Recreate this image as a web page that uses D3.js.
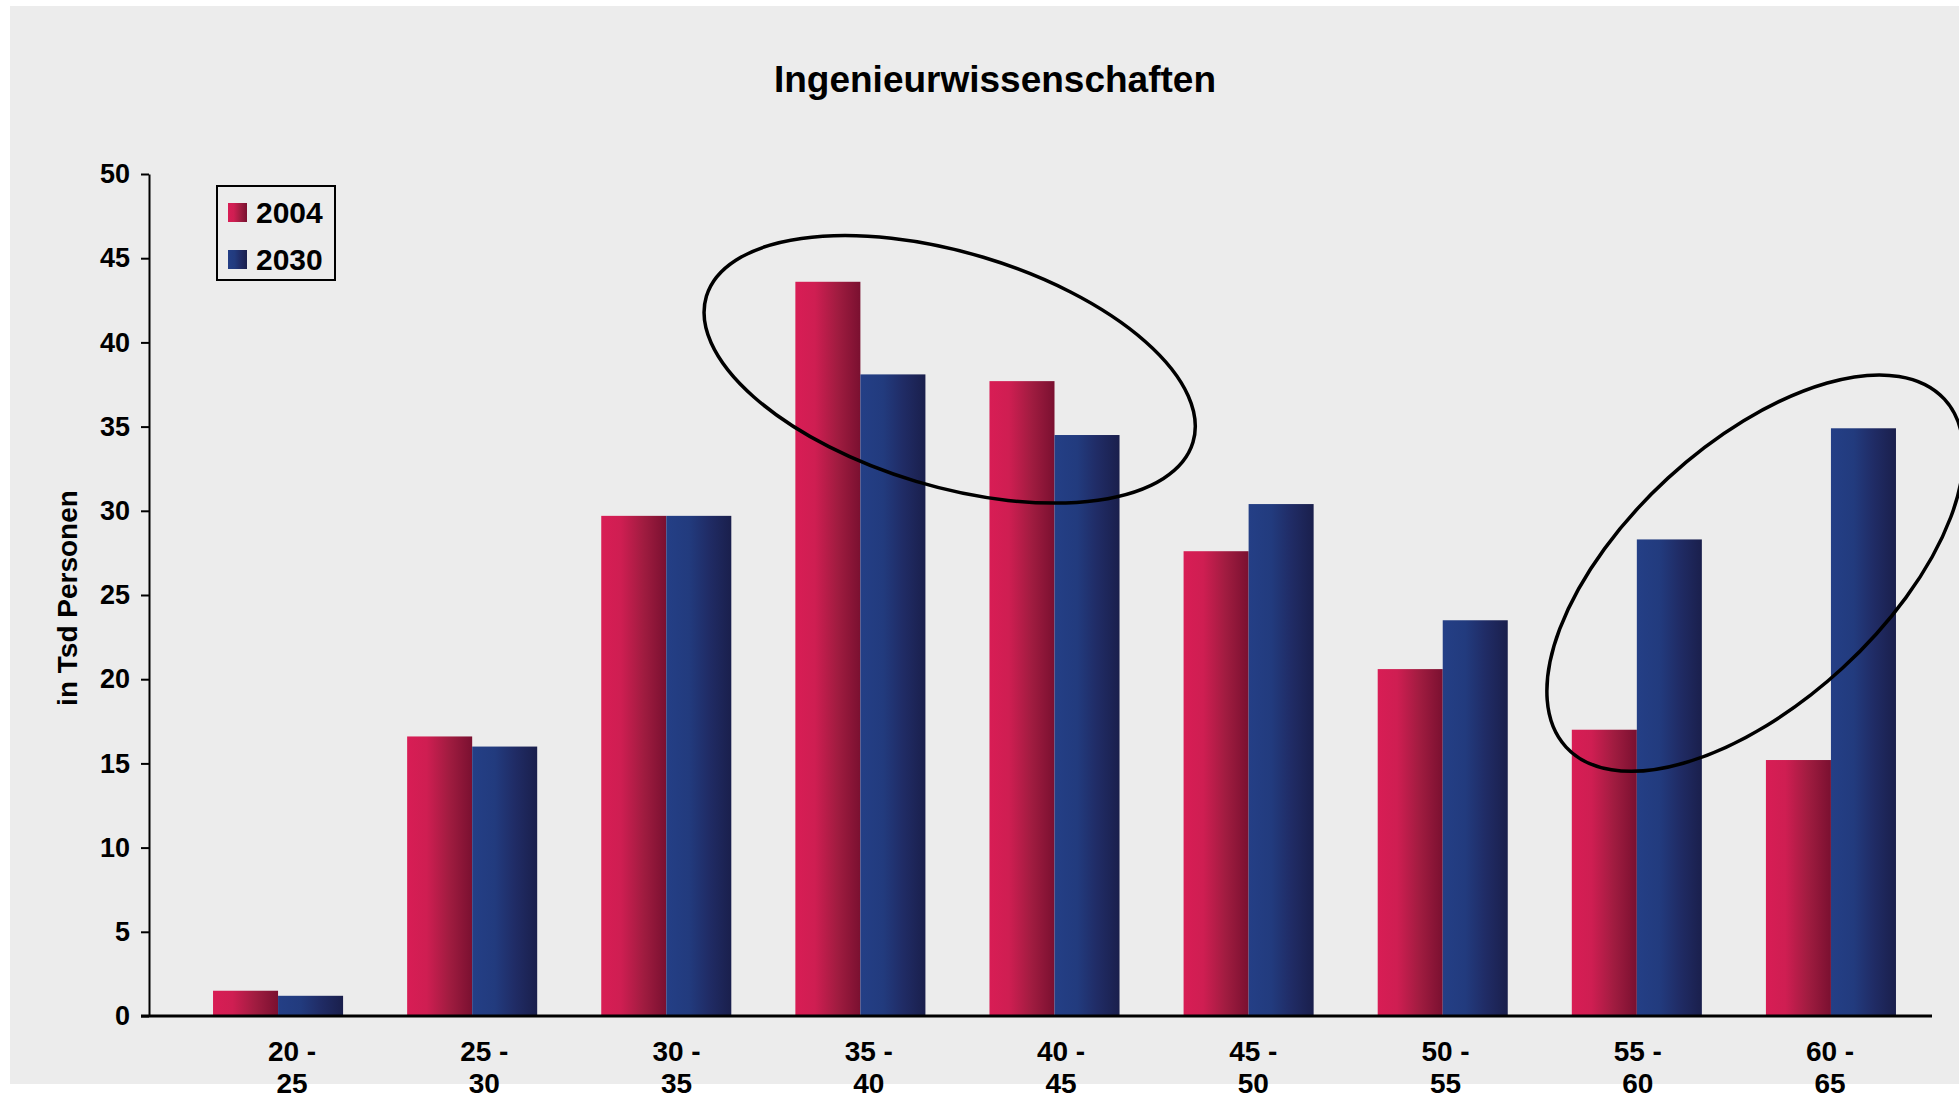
<!DOCTYPE html>
<html>
<head>
<meta charset="utf-8">
<script src="https://cdn.jsdelivr.net/npm/d3@7"></script>
<style>
  html, body { margin: 0; padding: 0; background: #fff; }
  svg { display: block; font-family: 'Liberation Sans', Arial, sans-serif; font-weight: bold; }
</style>
</head>
<body>
<svg id="chart" width="1959" height="1098"></svg>
<script>
// data (Tsd Personen)
const ageGroups = ['20 - 25', '25 - 30', '30 - 35', '35 - 40', '40 - 45', '45 - 50', '50 - 55', '55 - 60', '60 - 65']
const values2004 = [1.5, 16.6, 29.7, 43.6, 37.7, 27.6, 20.6, 17.0, 15.2]
const values2030 = [1.2, 16.0, 29.7, 38.1, 34.5, 30.4, 23.5, 28.3, 34.9]
const seriesNames = ['2004', '2030']
const yTicks = [0, 5, 10, 15, 20, 25, 30, 35, 40, 45, 50]
// highlight ellipses: centre as (group index, value)
const ellipseAt = [[3.46, 38.4], [7.61, 26.3]]
const ellipseShape = [[254, 117, 16.7], [257, 129, -42.6]]

const w = 1959
const h = 1098

const svg = d3.select('#chart')

svg.append('rect')
  .attr('x', 10).attr('y', 6)
  .attr('width', w - 10).attr('height', 1078)
  .attr('fill', '#ececec')

const defs = svg.append('defs')
const grads = {
  '2004': [['0%', '#d81d55'], ['30%', '#cf1e52'], ['65%', '#a01c40'], ['100%', '#7a1030']],
  '2030': [['0%', '#243f86'], ['35%', '#223b7e'], ['65%', '#202c66'], ['100%', '#1a1f4c']],
}
Object.entries(grads).forEach(([k, stops]) => {
  const g = defs.append('linearGradient').attr('id', 'g' + k)
    .attr('x1', 0).attr('x2', 1).attr('y1', 0).attr('y2', 0)
  stops.forEach(([o, c]) => g.append('stop').attr('offset', o).attr('stop-color', c))
})

const x = d3.scaleBand().domain(ageGroups).range([181, 1928]).paddingInner(0.33).paddingOuter(0.165)
const xSeries = d3.scaleBand().domain(seriesNames).range([0, x.bandwidth()])
const y = d3.scaleLinear().domain([0, 50]).range([1016, 174])
const xLabel = d3.scalePoint().domain(ageGroups).range([292, 1830])

// title
svg.append('text')
  .attr('x', 995).attr('y', 92)
  .attr('text-anchor', 'middle')
  .style('font-size', '37px')
  .text('Ingenieurwissenschaften')

// y axis
const yAxis = d3.axisLeft(y).tickValues(yTicks).tickSize(8).tickPadding(11).tickSizeOuter(0)
const gy = svg.append('g').attr('transform', 'translate(149,0)').call(yAxis)
gy.select('.domain').attr('stroke', '#000').attr('stroke-width', 2)
gy.selectAll('.tick line').attr('stroke', '#000').attr('stroke-width', 2)
gy.selectAll('.tick text')
  .attr('fill', '#000')
  .style('font-size', '27px')
  .style('font-family', "'Liberation Sans', Arial, sans-serif")
  .style('font-weight', 'bold')

svg.append('text')
  .attr('transform', 'translate(77,598) rotate(-90)')
  .attr('text-anchor', 'middle')
  .style('font-size', '28px')
  .text('in Tsd Personen')

// bars
const rows = ageGroups.map((a, i) => ({ group: a, vals: [values2004[i], values2030[i]] }))
const groups = svg.selectAll('.grp').data(rows).enter()
  .append('g').attr('class', 'grp')
  .attr('transform', (d) => `translate(${x(d.group)},0)`)
groups.selectAll('rect')
  .data((d) => d.vals.map((v, j) => ({ key: seriesNames[j], v })))
  .enter().append('rect')
  .attr('x', (d) => xSeries(d.key))
  .attr('width', xSeries.bandwidth())
  .attr('y', (d) => y(d.v))
  .attr('height', (d) => y(0) - y(d.v))
  .attr('fill', (d) => `url(#g${d.key})`)

// x axis line
svg.append('line')
  .attr('x1', 141).attr('x2', 1932)
  .attr('y1', y(0)).attr('y2', y(0))
  .attr('stroke', '#000').attr('stroke-width', 3)

// x labels, two lines
const lab = svg.selectAll('.xl').data(ageGroups).enter()
  .append('text').attr('class', 'xl')
  .attr('text-anchor', 'middle')
  .style('font-size', '28px')
lab.append('tspan')
  .attr('x', (d) => xLabel(d)).attr('y', 1061)
  .text((d) => d.split(' - ')[0] + ' -')
lab.append('tspan')
  .attr('x', (d) => xLabel(d)).attr('y', 1093)
  .text((d) => d.split(' - ')[1])

// legend
const lg = svg.append('g')
lg.append('rect')
  .attr('x', 217).attr('y', 186).attr('width', 118).attr('height', 94)
  .attr('fill', 'none').attr('stroke', '#000').attr('stroke-width', 2)
seriesNames.forEach((s, i) => {
  lg.append('rect')
    .attr('x', 228).attr('y', 203 + i * 47)
    .attr('width', 19).attr('height', 19)
    .attr('fill', `url(#g${s})`)
  lg.append('text')
    .attr('x', 256).attr('y', 223 + i * 47)
    .style('font-size', '30px')
    .text(s)
})

// highlight ellipses
const step = x.step()
ellipseAt.forEach(([gi, v], i) => {
  const base = Math.floor(gi)
  const cx = x(ageGroups[base]) + x.bandwidth() / 2 + (gi - base) * step
  const cy = y(v)
  const [rx, ry, ang] = ellipseShape[i]
  svg.append('ellipse')
    .attr('cx', 0).attr('cy', 0)
    .attr('rx', rx).attr('ry', ry)
    .attr('transform', `translate(${cx},${cy}) rotate(${ang})`)
    .attr('fill', 'none')
    .attr('stroke', '#000')
    .attr('stroke-width', 3.5)
})
</script>
</body>
</html>
